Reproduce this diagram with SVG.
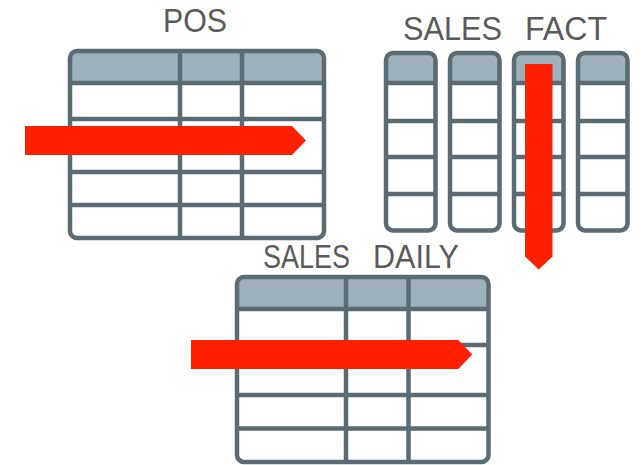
<svg xmlns="http://www.w3.org/2000/svg" width="641" height="465" viewBox="0 0 641 465">
  <style>
    .frame { fill: none; stroke: #5a6b73; stroke-width: 4.5; }
    .body { fill: #ffffff; }
    .head { fill: #9eb1bb; }
    .grid { stroke: #5a6b73; stroke-width: 4.5; fill: none; }
    .title { font-family: "Liberation Sans", Arial, sans-serif; fill: #5a5a5a; font-size: 33px; }
    .flow { fill: #ff2000; }
  </style>
  <rect width="641" height="465" fill="#ffffff"/>

  <!-- POS table -->
  <g id="pos">
    <text class="title" x="163" y="32" textLength="64" lengthAdjust="spacingAndGlyphs">POS</text>
    <rect class="body" x="70" y="51" width="254" height="187" rx="7"/>
    <path class="head" d="M70 83 V58 a7 7 0 0 1 7 -7 H317 a7 7 0 0 1 7 7 V83 Z"/>
    <path class="grid" d="M70 83 H324 M70 119 H324 M70 172 H324 M70 205 H324 M180 51 V238 M242 51 V238"/>
    <rect class="frame" x="70" y="51" width="254" height="187" rx="7"/>
  </g>

  <!-- SALES FACT columns -->
  <g id="sales-fact">
    <text class="title" x="403" y="40" textLength="99" lengthAdjust="spacingAndGlyphs">SALES</text>
    <text class="title" x="525" y="40" textLength="82" lengthAdjust="spacingAndGlyphs">FACT</text>
    <g id="fact-col-1">
      <rect class="body" x="386" y="53" width="49.5" height="177.5" rx="7"/>
      <path class="head" d="M386 83 V60 a7 7 0 0 1 7 -7 H428.5 a7 7 0 0 1 7 7 V83 Z"/>
      <path class="grid" d="M386 83 H435.5 M386 121 H435.5 M386 157 H435.5 M386 194 H435.5"/>
      <rect class="frame" x="386" y="53" width="49.5" height="177.5" rx="7"/>
    </g>
    <g id="fact-col-2">
      <rect class="body" x="450" y="53" width="49.5" height="177.5" rx="7"/>
      <path class="head" d="M450 83 V60 a7 7 0 0 1 7 -7 H492.5 a7 7 0 0 1 7 7 V83 Z"/>
      <path class="grid" d="M450 83 H499.5 M450 121 H499.5 M450 157 H499.5 M450 194 H499.5"/>
      <rect class="frame" x="450" y="53" width="49.5" height="177.5" rx="7"/>
    </g>
    <g id="fact-col-3">
      <rect class="body" x="514" y="53" width="49.5" height="177.5" rx="7"/>
      <path class="head" d="M514 83 V60 a7 7 0 0 1 7 -7 H556.5 a7 7 0 0 1 7 7 V83 Z"/>
      <path class="grid" d="M514 83 H563.5 M514 121 H563.5 M514 157 H563.5 M514 194 H563.5"/>
      <rect class="frame" x="514" y="53" width="49.5" height="177.5" rx="7"/>
    </g>
    <g id="fact-col-4">
      <rect class="body" x="578" y="53" width="49.5" height="177.5" rx="7"/>
      <path class="head" d="M578 83 V60 a7 7 0 0 1 7 -7 H620.5 a7 7 0 0 1 7 7 V83 Z"/>
      <path class="grid" d="M578 83 H627.5 M578 121 H627.5 M578 157 H627.5 M578 194 H627.5"/>
      <rect class="frame" x="578" y="53" width="49.5" height="177.5" rx="7"/>
    </g>
  </g>

  <!-- SALES DAILY table -->
  <g id="sales-daily">
    <text class="title" x="263" y="268" textLength="87" lengthAdjust="spacingAndGlyphs">SALES</text>
    <text class="title" x="373" y="268" textLength="86" lengthAdjust="spacingAndGlyphs">DAILY</text>
    <rect class="body" x="237" y="277" width="251.5" height="185" rx="7"/>
    <path class="head" d="M237 309 V284 a7 7 0 0 1 7 -7 H481.5 a7 7 0 0 1 7 7 V309 Z"/>
    <path class="grid" d="M237 309 H488.5 M237 345 H488.5 M237 395 H488.5 M237 428.5 H488.5 M346 277 V462 M408.5 277 V462"/>
    <rect class="frame" x="237" y="277" width="251.5" height="185" rx="7"/>
  </g>

  <!-- data-flow arrows -->
  <g id="flows">
    <polygon class="flow" points="25,126 292,126 306,140.5 292,155 25,155"/>
    <polygon class="flow" points="525,64 552.5,64 552.5,256.5 538.7,269.5 525,256.5"/>
    <polygon class="flow" points="191,340 458.3,340 472.3,354.5 458.3,369 191,369"/>
  </g>
</svg>
